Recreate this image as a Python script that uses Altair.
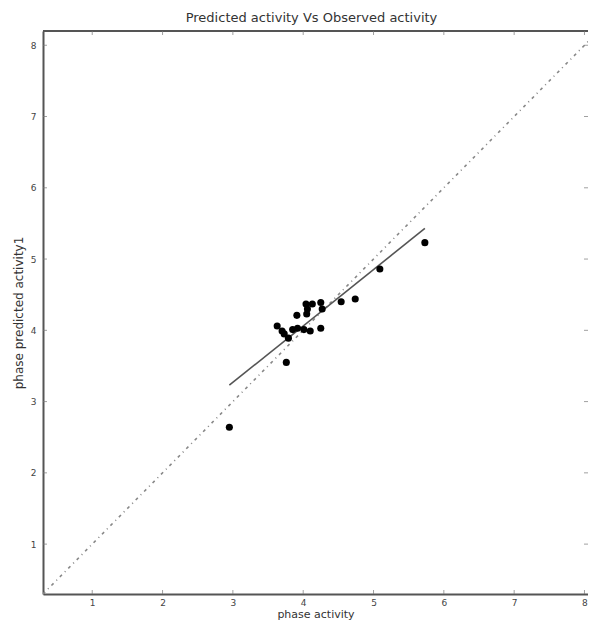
import altair as alt
import pandas as pd

# observed (x) vs predicted (y) activity
obs = [2.95, 3.76, 3.63, 3.70, 3.73, 3.79, 3.85, 3.92, 3.91, 4.01, 4.10,
       4.04, 4.06, 4.05, 4.13, 4.25, 4.27, 4.25, 4.54, 4.74, 5.09, 5.73]
pred = [2.64, 3.55, 4.06, 3.99, 3.95, 3.89, 4.01, 4.03, 4.21, 4.01, 3.99,
        4.37, 4.30, 4.23, 4.37, 4.39, 4.30, 4.03, 4.40, 4.44, 4.86, 5.23]

fit_x = [2.95, 5.73]
fit_y = [3.23, 5.43]

diag = [0.3, 8.2]

x_dom = [0.3, 8.05]
y_dom = [0.3, 8.2]
ticks = [1, 2, 3, 4, 5, 6, 7, 8]

pts = pd.DataFrame({"x": obs, "y": pred})
fit = pd.DataFrame({"x": fit_x, "y": fit_y})
dg = pd.DataFrame({"x": diag, "y": diag})
tk = pd.DataFrame({"t": ticks})

FONT = "DejaVu Sans"
AX = "#555555"

xs = alt.Scale(domain=x_dom, nice=False, zero=False)
ys = alt.Scale(domain=y_dom, nice=False, zero=False)

common = dict(values=ticks, format="d", tickSize=0,
              domainColor=AX, domainWidth=2, grid=False, labelFontSize=9,
              labelColor="#444", labelFont=FONT,
              titleFont=FONT, titleFontWeight="normal", titleColor="#333")
x_axis = alt.Axis(labelPadding=4, titleFontSize=11, titlePadding=1, **common)
y_axis = alt.Axis(labelPadding=7, titleFontSize=12, titlePadding=5, **common)

diag_layer = alt.Chart(dg).mark_line(
    color="#888888", strokeWidth=1.6, strokeDash=[3, 4, 1, 4], clip=True
).encode(
    x=alt.X("x:Q", scale=xs, axis=x_axis, title="phase activity"),
    y=alt.Y("y:Q", scale=ys, axis=y_axis, title="phase predicted activity1"),
)

top_spine = alt.Chart(tk).mark_rule(color=AX, strokeWidth=2).encode(
    x=alt.datum(x_dom[0]), x2=alt.datum(x_dom[1]), y=alt.datum(y_dom[1])
)

fit_layer = alt.Chart(fit).mark_line(color="#555555", strokeWidth=1.6).encode(
    x=alt.X("x:Q", scale=xs), y=alt.Y("y:Q", scale=ys)
)

pt_layer = alt.Chart(pts).mark_circle(color="black", opacity=1, size=50).encode(
    x=alt.X("x:Q", scale=xs), y=alt.Y("y:Q", scale=ys)
)

tick_kw = dict(color="#777777", thickness=1, size=8, clip=True)
xt_bot = alt.Chart(tk).mark_tick(orient="vertical", **tick_kw).encode(
    x=alt.X("t:Q", scale=xs), y=alt.datum(y_dom[0]))
xt_top = alt.Chart(tk).mark_tick(orient="vertical", **tick_kw).encode(
    x=alt.X("t:Q", scale=xs), y=alt.datum(y_dom[1]))
yt_left = alt.Chart(tk).mark_tick(orient="horizontal", **tick_kw).encode(
    y=alt.Y("t:Q", scale=ys), x=alt.datum(x_dom[0]))
yt_right = alt.Chart(tk).mark_tick(orient="horizontal", **tick_kw).encode(
    y=alt.Y("t:Q", scale=ys), x=alt.datum(x_dom[1]))

chart = alt.layer(
    diag_layer, fit_layer, pt_layer, top_spine, xt_bot, xt_top, yt_left, yt_right
).properties(
    width=545,
    height=563,
    title=alt.TitleParams("Predicted activity Vs Observed activity", font=FONT,
                          fontSize=13, fontWeight="normal", color="#333",
                          offset=5, dx=-4),
    autosize=alt.AutoSizeParams(type="none"),
    padding={"left": 35, "top": 23, "right": 0, "bottom": 26},
).configure_view(stroke=None).configure(background="white")

chart.save("out.html", embed_options={"renderer": "svg", "actions": False})
